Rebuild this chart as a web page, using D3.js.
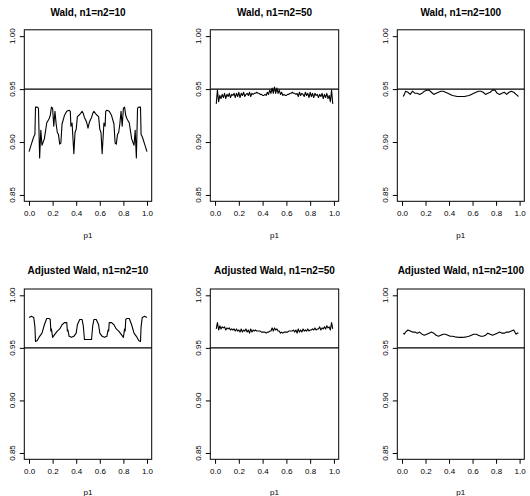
<!DOCTYPE html>
<html><head><meta charset="utf-8">
<script src="https://cdn.jsdelivr.net/npm/d3@7"></script>
<style>body{margin:0;background:#fff}svg{display:block}text{font-family:"Liberation Sans",Arial,sans-serif}</style>
</head><body><svg id="c" width="530" height="496"></svg>
<script>
const titles = ["Wald, n1=n2=10","Wald, n1=n2=50","Wald, n1=n2=100",
  "Adjusted Wald, n1=n2=10","Adjusted Wald, n1=n2=50","Adjusted Wald, n1=n2=100"];
const xTicks = [0,0.2,0.4,0.6,0.8,1.0];
const yTicks = [0.85,0.90,0.95,1.00];
const nominal = 0.95;
const xLabel = "p1";

const wald10P = [0,0.02,0.04,0.05,0.055,0.07,0.08,0.09,0.10,0.11,0.13,0.15,0.17,0.18,0.19,0.20,0.21,0.22,0.23,0.24,0.25,0.26,0.27,0.28,0.30,0.32,0.34,0.35,0.355,0.365,0.38,0.39,0.40,0.41,0.43,0.45,0.46,0.47,0.48,0.49,0.50,
  0.51,0.52,0.53,0.54,0.55,0.57,0.59,0.60,0.61,0.62,0.635,0.645,0.65,0.66,0.68,0.70,0.72,0.73,0.74,0.75,0.76,0.77,0.78,0.79,0.80,0.81,0.82,0.83,0.85,0.87,0.89,0.90,0.91,0.92,0.93,0.945,0.95,0.96,0.98,1.00];
const wald10V = [0.891,0.898,0.905,0.907,0.933,0.933,0.932,0.885,0.911,0.897,0.903,0.918,0.922,0.925,0.933,0.932,0.915,0.929,0.917,0.909,0.907,0.898,0.899,0.917,0.925,0.929,0.930,0.929,0.915,0.918,0.889,0.909,0.912,0.924,0.926,0.929,0.927,0.923,0.921,0.918,0.913,
  0.918,0.921,0.923,0.927,0.929,0.926,0.924,0.912,0.909,0.889,0.918,0.915,0.929,0.930,0.929,0.925,0.917,0.899,0.898,0.907,0.909,0.917,0.929,0.915,0.932,0.933,0.925,0.922,0.918,0.903,0.897,0.911,0.885,0.932,0.933,0.933,0.907,0.905,0.898,0.891];

const wald50V = [0.936,0.949,0.938,0.944,0.941,0.945,0.942,0.946,0.941,0.945,0.943,0.946,0.942,0.945,0.944,0.946,0.942,0.946,0.943,0.947,
  0.942,0.946,0.944,0.947,0.943,0.945,0.946,0.944,0.947,0.943,0.946,0.945,0.946,0.946,0.947,0.946,0.946,0.945,0.945,0.944,
  0.944,0.945,0.944,0.947,0.945,0.949,0.946,0.951,0.946,0.952,0.946,0.951,0.946,0.949,0.945,0.947,0.944,0.945,0.944,0.944,
  0.945,0.945,0.946,0.946,0.947,0.946,0.946,0.945,0.946,0.943,0.947,0.944,0.946,0.945,0.943,0.947,0.944,0.946,0.942,0.947,
  0.943,0.946,0.942,0.946,0.944,0.945,0.942,0.945,0.943,0.946,0.941,0.945,0.942,0.946,0.941,0.944,0.938,0.949,0.936];
const p50 = [0.01,0.02,0.03,0.04,0.05,0.06,0.07,0.08,0.09,0.10,0.11,0.12,0.13,0.14,0.15,0.16,0.17,0.18,0.19,0.20,
  0.21,0.22,0.23,0.24,0.25,0.26,0.27,0.28,0.29,0.30,0.31,0.32,0.33,0.34,0.35,0.36,0.37,0.38,0.39,0.40,
  0.41,0.42,0.43,0.44,0.45,0.46,0.47,0.48,0.49,0.50,0.51,0.52,0.53,0.54,0.55,0.56,0.57,0.58,0.59,0.60,
  0.61,0.62,0.63,0.64,0.65,0.66,0.67,0.68,0.69,0.70,0.71,0.72,0.73,0.74,0.75,0.76,0.77,0.78,0.79,0.80,
  0.81,0.82,0.83,0.84,0.85,0.86,0.87,0.88,0.89,0.90,0.91,0.92,0.93,0.94,0.95,0.96,0.97,0.98,0.99];

const p100 = [0.01,0.02,0.03,0.05,0.07,0.09,0.11,0.13,0.15,0.17,0.19,0.21,0.23,0.25,0.27,0.29,0.31,0.33,0.35,0.37,0.39,0.41,0.43,0.45,0.47,0.49,
  0.51,0.53,0.55,0.57,0.59,0.61,0.63,0.65,0.67,0.69,0.71,0.73,0.75,0.77,0.79,0.81,0.83,0.85,0.87,0.89,0.91,0.93,0.95,0.97,0.98,0.99];
const wald100V = [0.943,0.945,0.948,0.947,0.945,0.948,0.946,0.946,0.945,0.946,0.948,0.949,0.949,0.947,0.945,0.946,0.947,0.948,0.948,0.947,0.946,0.945,0.944,0.9435,0.943,0.943,
  0.943,0.943,0.9435,0.944,0.945,0.946,0.947,0.948,0.948,0.947,0.945,0.946,0.947,0.949,0.949,0.946,0.945,0.946,0.947,0.945,0.947,0.948,0.947,0.945,0.944,0.943];

const adj10P = [0,0.02,0.04,0.05,0.055,0.07,0.09,0.11,0.13,0.15,0.17,0.18,0.185,0.19,0.20,0.22,0.24,0.26,0.28,0.30,0.32,0.325,0.33,0.34,0.36,0.38,0.40,0.41,0.43,0.45,0.46,0.47,0.50,
  0.53,0.54,0.55,0.57,0.59,0.60,0.62,0.64,0.66,0.67,0.675,0.68,0.70,0.72,0.74,0.76,0.78,0.80,0.81,0.815,0.82,0.83,0.85,0.87,0.89,0.91,0.93,0.945,0.95,0.96,0.98,1.00];
const adj10V = [0.979,0.980,0.979,0.970,0.956,0.957,0.961,0.964,0.972,0.978,0.978,0.977,0.966,0.968,0.960,0.963,0.966,0.968,0.972,0.974,0.974,0.966,0.967,0.961,0.960,0.961,0.964,0.972,0.977,0.977,0.971,0.958,0.958,
  0.958,0.971,0.977,0.977,0.972,0.964,0.961,0.960,0.961,0.967,0.966,0.974,0.974,0.972,0.968,0.966,0.963,0.960,0.968,0.966,0.977,0.978,0.978,0.972,0.964,0.961,0.957,0.956,0.970,0.979,0.980,0.979];

const adj50V = [0.968,0.974,0.967,0.971,0.968,0.970,0.969,0.970,0.967,0.969,0.968,0.969,0.967,0.968,0.967,0.968,0.966,0.968,0.966,0.967,
  0.965,0.968,0.965,0.967,0.966,0.968,0.965,0.967,0.964,0.968,0.965,0.967,0.966,0.967,0.966,0.966,0.966,0.966,0.965,0.965,
  0.965,0.965,0.964,0.965,0.965,0.966,0.966,0.969,0.966,0.969,0.967,0.968,0.966,0.966,0.964,0.965,0.964,0.965,0.965,0.965,
  0.965,0.966,0.966,0.966,0.966,0.967,0.965,0.967,0.964,0.968,0.965,0.967,0.965,0.968,0.966,0.967,0.966,0.968,0.966,0.967,
  0.967,0.968,0.967,0.969,0.967,0.968,0.968,0.970,0.967,0.969,0.968,0.970,0.968,0.971,0.969,0.970,0.967,0.974,0.968];

const adj100V = [0.964,0.963,0.965,0.967,0.966,0.965,0.965,0.964,0.965,0.963,0.962,0.963,0.964,0.965,0.964,0.962,0.961,0.962,0.963,0.963,0.962,0.961,0.961,0.9605,0.9602,0.960,
  0.960,0.9602,0.9605,0.961,0.962,0.963,0.963,0.962,0.961,0.961,0.962,0.964,0.963,0.962,0.963,0.964,0.965,0.964,0.964,0.965,0.965,0.966,0.967,0.963,0.964,0.964];

const panels = [
  {p: wald10P, v: wald10V}, {p: p50, v: wald50V}, {p: p100, v: wald100V},
  {p: adj10P, v: adj10V}, {p: p50, v: adj50V}, {p: p100, v: adj100V}
];

const colBox = [[24.3,151.7],[210.3,338.7],[397.3,524.3]];
const rowBox = [[29.8,201.3],[289,459.3]];

const svg = d3.select("#c");
panels.forEach((d,i) => {
  const c = i % 3, r = Math.floor(i/3);
  const [x0,x1] = colBox[c], [y0,y1] = rowBox[r];
  const x = d3.scaleLinear().domain([-0.04,1.04]).range([x0,x1]);
  const y = d3.scaleLinear().domain([0.844,1.006]).range([y1,y0]);
  const g = svg.append("g");
  g.append("line").attr("x1",x0).attr("x2",x1).attr("y1",y(nominal)).attr("y2",y(nominal))
    .attr("stroke","#000").attr("stroke-width",1.1);
  const pts = d.p.map((p,k)=>[p,d.v[k]]);
  g.append("path").datum(pts)
    .attr("d", d3.line().x(q=>x(q[0])).y(q=>y(q[1])))
    .attr("fill","none").attr("stroke","#000").attr("stroke-width",1.1).attr("stroke-linejoin","round");
  g.append("rect").attr("x",x0).attr("y",y0).attr("width",x1-x0).attr("height",y1-y0)
    .attr("fill","none").attr("stroke","#000").attr("stroke-width",1);
  const ax = g.append("g").attr("transform",`translate(0,${y1})`)
    .call(d3.axisBottom(x).tickValues(xTicks).tickFormat(d3.format(".1f")).tickSize(4.5).tickSizeOuter(0).tickPadding(5));
  ax.select(".domain").remove();
  ax.selectAll("text").attr("font-size",8).attr("fill","#000").attr("font-family","Liberation Sans, Arial, sans-serif");
  ax.selectAll("line").attr("stroke","#000");
  const ay = g.append("g").attr("transform",`translate(${x0},0)`)
    .call(d3.axisLeft(y).tickValues(yTicks).tickFormat(d3.format(".2f")).tickSize(4.5).tickSizeOuter(0));
  ay.select(".domain").remove();
  ay.selectAll("line").attr("stroke","#000");
  ay.selectAll("text").remove();
  yTicks.forEach(t => {
    g.append("text").attr("transform",`translate(${x0-9.6},${y(t)}) rotate(-90)`)
      .attr("text-anchor","middle").attr("font-size",8).attr("fill","#000").text(d3.format(".2f")(t));
  });
  g.append("text").attr("x",(x0+x1)/2).attr("y", r===0 ? 16 : 273.5)
    .attr("text-anchor","middle").attr("font-size",10).attr("font-weight","bold").text(titles[i]);
  g.append("text").attr("x",(x0+x1)/2).attr("y", r===0 ? 238 : 494.5)
    .attr("text-anchor","middle").attr("font-size",8).text(xLabel);
});
</script></body></html>
